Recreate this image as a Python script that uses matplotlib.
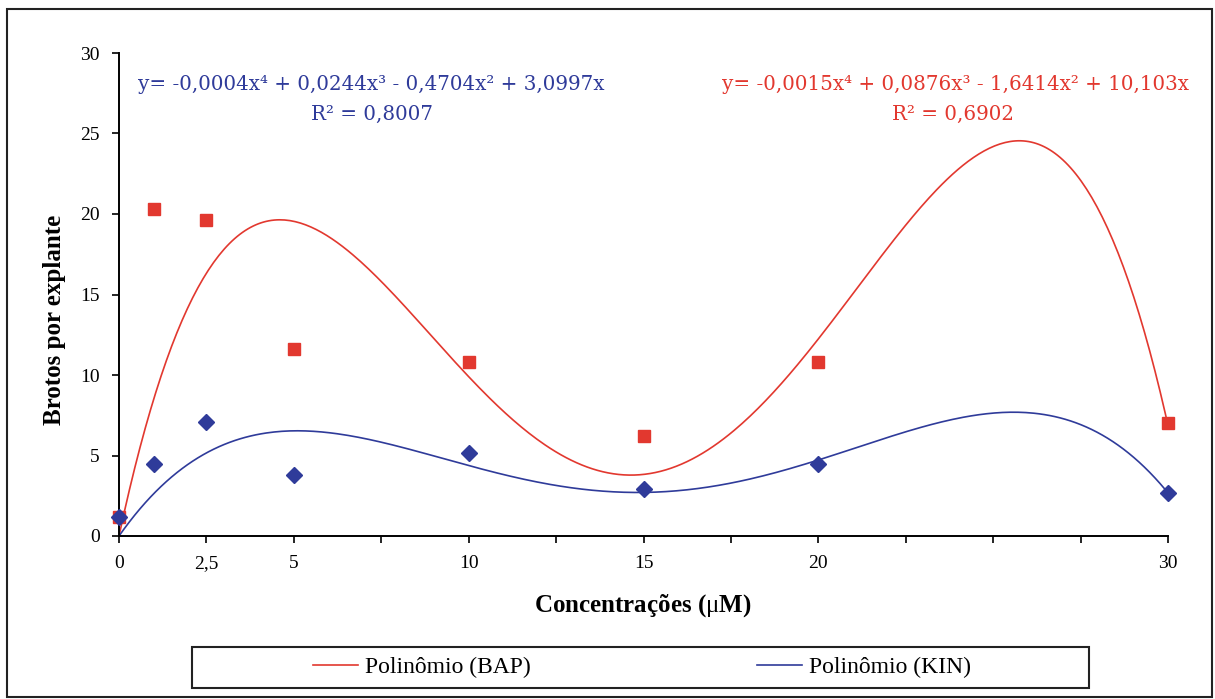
import matplotlib
matplotlib.use("Agg")
import matplotlib.pyplot as plt
from matplotlib.patches import Rectangle
import numpy as np

plt.rcParams['font.family'] = ['Liberation Serif', 'DejaVu Serif']
plt.rcParams['mathtext.fontset'] = 'custom'
plt.rcParams['mathtext.rm'] = 'Liberation Serif'
plt.rcParams['mathtext.it'] = 'Liberation Serif'

# dados
conc = [0, 1, 2.5, 5, 10, 15, 20, 30]
bap = [1.2, 20.3, 19.6, 11.6, 10.8, 6.2, 10.8, 7.0]
kin = [1.2, 4.5, 7.1, 3.8, 5.15, 2.9, 4.5, 2.7]

xticks = [0, 2.5, 5, 7.5, 10, 12.5, 15, 17.5, 20, 22.5, 25, 27.5, 30]
xticklabels = ['0', '2,5', '5', '', '10', '', '15', '', '20', '', '', '', '30']
yticks = [0, 5, 10, 15, 20, 25, 30]

eq_bap = "y= -0,0015x⁴ + 0,0876x³ - 1,6414x² + 10,103x"
r2_bap = "R² = 0,6902"
eq_kin = "y= -0,0004x⁴ + 0,0244x³ - 0,4704x² + 3,0997x"
r2_kin = "R² = 0,8007"

red = '#e2382f'
blue = '#2f3b9a'


def trend(x, y, xs):
    # linha de tendencia polinomial de ordem 4 com intercepto 0 (como no Excel)
    x = np.asarray(x, float)
    A = np.vstack([x, x**2, x**3, x**4]).T
    c, *_ = np.linalg.lstsq(A, np.asarray(y, float), rcond=None)
    return c[0]*xs + c[1]*xs**2 + c[2]*xs**3 + c[3]*xs**4


W, H = 1215, 699
fig = plt.figure(figsize=(W/100, H/100), dpi=100)
ax = fig.add_axes([119/W, 1-536/H, (1168-119)/W, (536-53)/H])

xs = np.linspace(0, 30, 400)
l1, = ax.plot(xs, trend(conc, bap, xs), color=red, lw=1.2, label='Polinômio (BAP)')
l2, = ax.plot(xs, trend(conc, kin, xs), color=blue, lw=1.2, label='Polinômio (KIN)')
ax.plot(conc, bap, 's', color=red, ms=9, mec=red, clip_on=False, zorder=5)
ax.plot(conc, kin, 'D', color=blue, ms=8, mec=blue, clip_on=False, zorder=6)

ax.set_xlim(0, 30)
ax.set_ylim(0, 30)
ax.set_xticks(xticks)
ax.set_xticklabels(xticklabels)
ax.set_yticks(yticks)
ax.tick_params(direction='out', length=5, width=1.2, labelsize=14, pad=9)
for s in ['top', 'right']:
    ax.spines[s].set_visible(False)
for s in ['left', 'bottom']:
    ax.spines[s].set_linewidth(1.4)

fig.text(55/W, 1-320/H, 'Brotos por explante', rotation=90, ha='center', va='center',
         fontsize=18, fontweight='bold')
fig.text(643/W, 1-606/H, r'Concentrações ($\mu$M)', ha='center', va='center',
         fontsize=18, fontweight='bold')

eqfont = dict(family='DejaVu Serif', fontsize=14.3, ha='center', va='center')
fig.text(371/W, 1-84/H, eq_kin, color=blue, **eqfont)
fig.text(372/W, 1-114/H, r2_kin, color=blue, **eqfont)
fig.text(955/W, 1-84/H, eq_bap, color=red, **eqfont)
fig.text(953/W, 1-114/H, r2_bap, color=red, **eqfont)

# moldura externa e caixa da legenda
fig.patches.append(Rectangle((7/W, 1-697/H), (1212-7)/W, (697-9)/H, transform=fig.transFigure,
                             fill=False, ec='#222222', lw=1.5))
fig.patches.append(Rectangle((192/W, 1-688/H), (1089-192)/W, (688-647)/H, transform=fig.transFigure,
                             fill=False, ec='#222222', lw=1.5))
fig.legend(handles=[l1, l2], loc='center', bbox_to_anchor=(642/W, 1-667/H), ncol=2,
           frameon=False, fontsize=17, handlelength=1.9, handletextpad=0.3, columnspacing=9.6)

fig.savefig('out.png', dpi=100)
